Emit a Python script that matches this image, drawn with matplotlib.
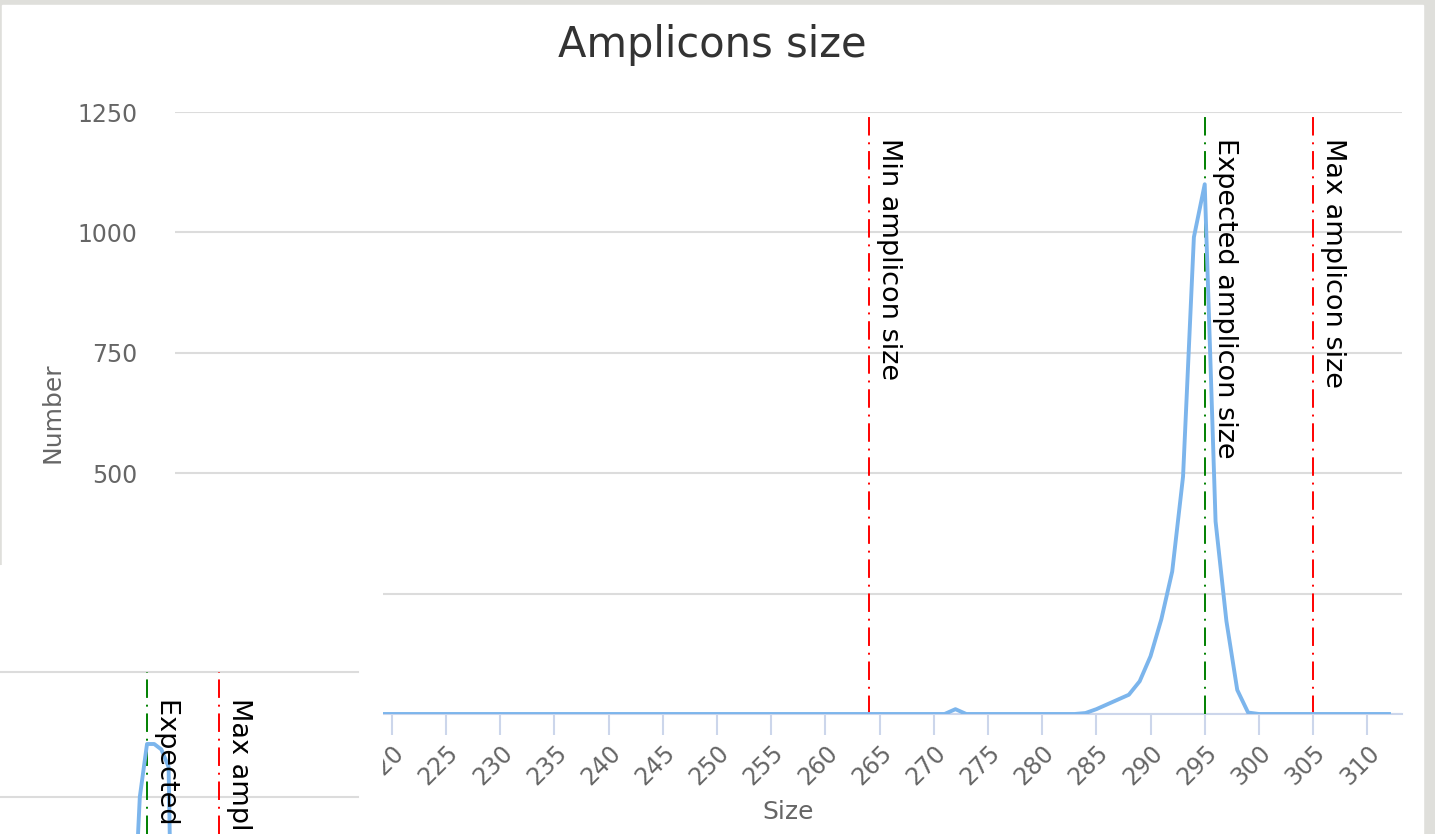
import matplotlib.pyplot as plt
import matplotlib.patches as patches

# amplicon size distribution
sizes = list(range(201, 313))
counts = [
    0, 0, 0, 0, 0, 0, 0, 0, 0, 0,   # 201-210
    0, 0, 0, 0, 0, 0, 0, 0, 0, 0,   # 211-220
    0, 0, 0, 0, 0, 0, 0, 0, 0, 0,   # 221-230
    0, 0, 0, 0, 0, 0, 0, 0, 0, 0,   # 231-240
    0, 0, 0, 0, 0, 0, 0, 0, 0, 0,   # 241-250
    0, 0, 0, 0, 0, 0, 0, 0, 0, 0,   # 251-260
    0, 0, 0, 0, 0, 0, 0, 0, 0, 0,   # 261-270
    0, 10, 0, 0, 0, 0, 0, 0, 0, 0,  # 271-280
    0, 0, 0, 2, 10, 20, 30, 40, 68, 120,        # 281-290
    197, 296, 493, 990, 1100, 400, 193, 50, 3, 0,  # 291-300
    0, 0, 0, 0, 0, 0, 0, 0, 0, 0,   # 301-310
    0, 0,                           # 311-312
]
min_size = 264
expected_size = 295
max_size = 305

# leftover fragment of a second render (bottom left corner)
frag_sizes = [293, 294, 295, 296, 297, 298, 299]
frag_counts = [700, 1000, 1106, 1106, 1095, 1060, 200]

W, H = 1435, 834
fig = plt.figure(figsize=(W / 100, H / 100), dpi=100)
fig.patch.set_facecolor('#dfdfdb')
fig.add_artist(patches.Rectangle((2 / W, 0), 1421 / W, 829 / H,
                                 transform=fig.transFigure, color='white', zorder=0))

txt = '#666666'
grid = '#dcdcdc'
axis_c = '#ccd6eb'
line_c = '#7cb5ec'
dashdot = (0, (9.5, 3.5, 1, 3.5))

ax = fig.add_axes([175 / W, 120 / H, 1227 / W, 602 / H])
ax.set_zorder(1)
ax.patch.set_alpha(0)
ax.plot(sizes, counts, color=line_c, lw=2.8, zorder=4, solid_joinstyle='round')
ax.set_xlim(200.35, 313.2)
ax.set_ylim(0, 1250)
ax.set_yticks([0, 250, 500, 750, 1000, 1250])
ax.set_xticks(list(range(200, 315, 5)))
ax.grid(axis='y', color=grid, lw=1.5)
ax.set_axisbelow(True)
for s in ['top', 'right', 'left']:
    ax.spines[s].set_visible(False)
ax.spines['bottom'].set_color(axis_c)
ax.spines['bottom'].set_linewidth(1.5)
ax.tick_params(axis='y', length=0, pad=27, labelsize=17, labelcolor=txt)
ax.tick_params(axis='x', length=15, width=1.5, color=axis_c, pad=4,
               labelsize=17, labelcolor=txt)
for lab in ax.get_xticklabels():
    lab.set_rotation(45)
    lab.set_ha('right')
    lab.set_rotation_mode('anchor')

for x, c, label in [(min_size, 'red', 'Min amplicon size'),
                    (expected_size, 'green', 'Expected amplicon size'),
                    (max_size, 'red', 'Max amplicon size')]:
    ax.axvline(x, color=c, lw=1.4, linestyle=dashdot, zorder=3)
    ax.annotate(label, xy=(x, 1), xycoords=('data', 'axes fraction'),
                xytext=(5, -19), textcoords='offset points', rotation=-90,
                ha='left', va='top', fontsize=19.5, color='black', zorder=5)

ax.set_xlabel('Size', fontsize=18, color=txt)
ax.xaxis.set_label_coords(0.5, (714 - 800) / 602)
ax.set_ylabel('Number', fontsize=18, color=txt)
ax.yaxis.set_label_coords((64 - 175) / 1227, 0.5)

fig.text(712 / W, (H - 45) / H, 'Amplicons size', ha='center', va='center',
         fontsize=30, color='#333333')

# fragment on top
ax2 = fig.add_axes([0, 0, 383 / W, 269 / H])
ax2.set_zorder(3)
ax2.set_xlim(274.58, 327.78)
ax2.set_ylim(926, 1464)
ax2.axis('off')
ax2.add_patch(patches.Rectangle((0, 0), 1, 1, transform=ax2.transAxes,
                                color='white', zorder=0))
for yv in [1000, 1250]:
    ax2.axhline(yv, xmin=0, xmax=358 / 383, color=grid, lw=1.5, zorder=1)
ax2.plot(frag_sizes, frag_counts, color=line_c, lw=2.8, zorder=4)
for x, c, label in [(expected_size, 'green', 'Expected amplicon size'),
                    (max_size, 'red', 'Max amplicon size')]:
    ax2.plot([x, x], [926, 1250], color=c, lw=1.4, linestyle=dashdot, zorder=3)
    t = ax2.annotate(label, xy=(x, 1250), xytext=(5, -19), textcoords='offset points',
                     rotation=-90, ha='left', va='top', fontsize=19.5, color='black',
                     zorder=5, annotation_clip=False)
    t.set_clip_on(True)
    t.set_clip_path(ax2.patch)

fig.savefig('out.png', dpi=100, facecolor=fig.get_facecolor())
